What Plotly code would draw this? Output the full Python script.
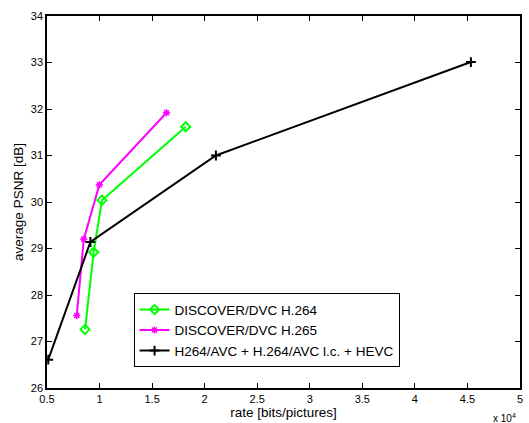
import plotly.graph_objects as go

# rates in units of 10^4 bits/picture
h264_rate = [0.862, 0.944, 1.023, 1.82]
h264_psnr = [27.26, 28.92, 30.04, 31.62]
h265_rate = [0.783, 0.85, 0.998, 1.637]
h265_psnr = [27.56, 29.2, 30.37, 31.92]
avc_rate = [0.512, 0.913, 2.107, 4.533]
avc_psnr = [26.61, 29.14, 31.0, 33.01]

x_ticks = [0.5, 1, 1.5, 2, 2.5, 3, 3.5, 4, 4.5, 5]
y_ticks = [26, 27, 28, 29, 30, 31, 32, 33, 34]

FONT = "Liberation Sans, Arial, sans-serif"

fig = go.Figure()
fig.add_trace(go.Scatter(x=h264_rate, y=h264_psnr, mode="lines+markers",
    name="DISCOVER/DVC H.264",
    line=dict(color="#00ff00", width=2),
    marker=dict(symbol="diamond-open", size=7, color="#00ff00", line=dict(width=2, color="#00ff00"))))
fig.add_trace(go.Scatter(x=h265_rate, y=h265_psnr, mode="lines+markers",
    name="DISCOVER/DVC H.265",
    line=dict(color="#ff00ff", width=2),
    marker=dict(symbol="asterisk-open", size=6, color="#ff00ff", line=dict(width=1.5, color="#ff00ff"))))
fig.add_trace(go.Scatter(x=avc_rate, y=avc_psnr, mode="lines+markers",
    name="H264/AVC + H.264/AVC l.c. + HEVC",
    line=dict(color="black", width=2),
    marker=dict(symbol="cross-thin-open", size=7, color="black", line=dict(width=2, color="black"))))

axis_common = dict(showgrid=False, zeroline=False, showline=True, linecolor="black",
                   linewidth=1.5, mirror="ticks", ticks="inside", ticklen=5,
                   tickcolor="black", tickfont=dict(size=11, color="black", family=FONT))

fig.update_layout(
    width=529, height=423,
    margin=dict(l=47, r=6, t=16, b=32),
    paper_bgcolor="white", plot_bgcolor="white",
    font=dict(family=FONT, color="black"),
    showlegend=True,
    legend=dict(x=0.183, y=0.056, xanchor="left", yanchor="bottom",
                bordercolor="black", borderwidth=1, bgcolor="white",
                font=dict(size=13.5, family=FONT, color="black"),
                tracegroupgap=0, itemsizing="trace"),
    xaxis=dict(range=[0.5, 5], tickvals=x_ticks, ticktext=[("%g" % v) for v in x_ticks],
               title=dict(text="rate [bits/pictures]", font=dict(size=13.5), standoff=3),
               **axis_common),
    yaxis=dict(range=[26, 34], tickvals=y_ticks, ticktext=[str(v) for v in y_ticks],
               title=dict(text="average PSNR [dB]", font=dict(size=13.5), standoff=4),
               **axis_common),
)
fig.add_annotation(text="x 10<sup>4</sup>", xref="paper", yref="paper", x=0.995, y=0,
                   xanchor="right", yanchor="top", yshift=-22, showarrow=False,
                   font=dict(size=10, family=FONT, color="black"))

fig.write_html("out.html")
